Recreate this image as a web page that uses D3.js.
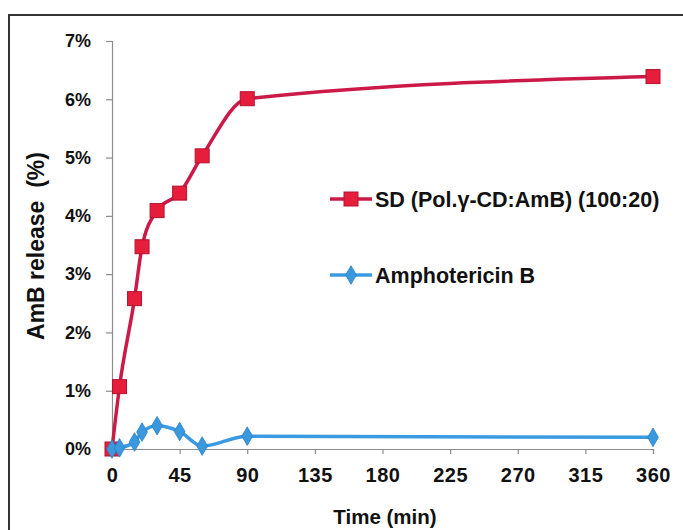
<!DOCTYPE html>
<html>
<head>
<meta charset="utf-8">
<script src="https://cdn.jsdelivr.net/npm/d3@7"></script>
<style>
  html, body { margin: 0; padding: 0; background: #fff; }
  svg { display: block; }
  text { font-family: "Liberation Sans", Arial, sans-serif; font-weight: bold; fill: #111; }
</style>
</head>
<body>
<svg id="chart" width="683" height="530"></svg>
<script>
// ---- data ----
const timeMin = [0, 5, 15, 20, 30, 45, 60, 90, 360];
const sdRelease = [0, 1.07, 2.58, 3.47, 4.09, 4.39, 5.03, 6.01, 6.39];
const ambRelease = [0, 0.02, 0.12, 0.29, 0.40, 0.30, 0.05, 0.22, 0.20];
const xTickValues = [0, 45, 90, 135, 180, 225, 270, 315, 360];
const yTickValues = [0, 1, 2, 3, 4, 5, 6, 7];
const seriesNames = ["SD (Pol.\u03B3-CD:AmB) (100:20)", "Amphotericin B"];
const xTitle = "Time (min)";
const yTitle = "AmB release\u00A0\u00A0(%)";

// ---- layout ----
const svg = d3.select("#chart");
const x = d3.scaleLinear().domain([0, 360]).range([112, 653]);
const y = d3.scaleLinear().domain([0, 7]).range([449, 41]);

// frame
svg.append("rect").attr("x", 9).attr("y", 15).attr("width", 700).attr("height", 540)
  .attr("fill", "#fff").attr("stroke", "#333").attr("stroke-width", 2);

// axes
const yAxis = svg.append("g").attr("transform", "translate(112,0)")
  .call(d3.axisLeft(y).tickValues(yTickValues).tickFormat(d => d + "%").tickSize(6).tickPadding(15));
const xAxis = svg.append("g").attr("transform", "translate(0,449)")
  .call(d3.axisBottom(x).tickValues(xTickValues).tickSize(5).tickPadding(14));
[yAxis, xAxis].forEach(g => {
  g.select(".domain").attr("stroke", "#8c8c8c").attr("stroke-width", 1.2);
  g.selectAll(".tick line").attr("stroke", "#8c8c8c").attr("stroke-width", 1.2);
  g.selectAll("text").attr("fill", "#111").style("font-family", '"Liberation Sans", Arial, sans-serif').style("font-weight", "bold");
});
yAxis.selectAll("text").style("font-size", "18px");
xAxis.selectAll("text").style("font-size", "20px").style("letter-spacing", "0.5px");

// titles
svg.append("text").attr("x", 385).attr("y", 524).attr("text-anchor", "middle")
  .style("font-size", "20.5px").text(xTitle);
svg.append("text").attr("transform", "translate(44,246) rotate(-90)").attr("text-anchor", "middle")
  .style("font-size", "23px").text(yTitle);

// lines
const curve = d3.curveMonotoneX;
const sdPts = timeMin.map((t, i) => [t, sdRelease[i]]);
const ambPts = timeMin.map((t, i) => [t, ambRelease[i]]);
const line = d3.line().x(d => x(d[0])).y(d => y(d[1])).curve(curve);

const redLine = "#cc1a48", redFill = "#e61e3c", redEdge = "#b3122e";
const blueLine = "#3b9be0", blueFill = "#3a98de", blueEdge = "#2a7fc4";

svg.append("path").datum(sdPts).attr("d", line).attr("fill", "none")
  .attr("stroke", redLine).attr("stroke-width", 3.5);
const sq = 14;
svg.append("g").selectAll("rect").data(sdPts).join("rect")
  .attr("x", d => x(d[0]) - sq / 2).attr("y", d => y(d[1]) - sq / 2)
  .attr("width", sq).attr("height", sq)
  .attr("fill", redFill).attr("stroke", redEdge).attr("stroke-width", 1);

svg.append("path").datum(ambPts).attr("d", line).attr("fill", "none")
  .attr("stroke", blueLine).attr("stroke-width", 3.5);
const diamond = d3.symbol().type(d3.symbolDiamond).size(100);
svg.append("g").selectAll("path").data(ambPts).join("path")
  .attr("d", diamond)
  .attr("transform", d => `translate(${x(d[0])},${y(d[1])})`)
  .attr("fill", blueFill).attr("stroke", blueEdge).attr("stroke-width", 0.8);

// legend
const legend = svg.append("g");
const legItems = [
  { name: seriesNames[0], y: 199, color: redLine, fill: redFill, edge: redEdge, type: "square" },
  { name: seriesNames[1], y: 275, color: blueLine, fill: blueFill, edge: blueEdge, type: "diamond" }
];
legItems.forEach(it => {
  legend.append("line").attr("x1", 330).attr("x2", 372).attr("y1", it.y).attr("y2", it.y)
    .attr("stroke", it.color).attr("stroke-width", 3.5);
  if (it.type === "square") {
    legend.append("rect").attr("x", 351 - 7).attr("y", it.y - 7).attr("width", 14).attr("height", 14)
      .attr("fill", it.fill).attr("stroke", it.edge);
  } else {
    legend.append("path").attr("d", diamond).attr("transform", `translate(351,${it.y})`)
      .attr("fill", it.fill).attr("stroke", it.edge).attr("stroke-width", 0.8);
  }
  legend.append("text").attr("x", 375).attr("y", it.y + 7.5).style("font-size", "21.5px").text(it.name);
});
</script>
</body>
</html>
